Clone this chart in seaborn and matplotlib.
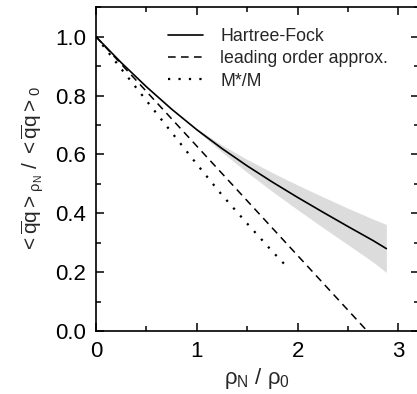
import numpy as np
import seaborn as sns
import matplotlib.pyplot as plt
from matplotlib.ticker import MultipleLocator, FormatStrFormatter

# Data
hf_x = [0.0, 0.25, 0.5, 0.75, 1.0, 1.25, 1.5, 1.75, 2.0, 2.25, 2.5, 2.75, 2.88]
hf_y = [1.0, 0.912, 0.83, 0.754, 0.684, 0.62, 0.561, 0.506, 0.454, 0.404, 0.355, 0.307, 0.28]

band_x = [0.9, 1.25, 1.5, 1.75, 2.0, 2.25, 2.5, 2.75, 2.88]
band_lo = [0.71, 0.608, 0.539, 0.474, 0.412, 0.352, 0.293, 0.234, 0.199]
band_hi = [0.71, 0.632, 0.583, 0.538, 0.496, 0.456, 0.417, 0.38, 0.362]

lo_x = [0.0, 2.69]
lo_y = [1.0, 0.0]

mm_x = [0.0, 0.25, 0.5, 0.75, 1.0, 1.25, 1.5, 1.75, 1.9]
mm_y = [1.0, 0.891, 0.783, 0.675, 0.567, 0.462, 0.365, 0.27, 0.216]

sns.set_style("ticks")
plt.rcParams["font.family"] = ["Liberation Sans", "DejaVu Sans"]
plt.rcParams["mathtext.fontset"] = "custom"
plt.rcParams["mathtext.rm"] = "Liberation Sans"
plt.rcParams["mathtext.it"] = "Liberation Sans"
plt.rcParams["mathtext.bf"] = "Liberation Sans:bold"

fig = plt.figure(figsize=(4.17, 3.94), dpi=100)
ax = fig.add_axes([96 / 417, 63 / 394, 322.6 / 417, 323.7 / 394])

ax.fill_between(band_x, band_lo, band_hi, color="#dcdcdc", lw=0)
sns.lineplot(x=hf_x, y=hf_y, ax=ax, color="black", lw=1.2, sort=False,
             estimator=None, label="Hartree-Fock")
sns.lineplot(x=lo_x, y=lo_y, ax=ax, color="black", lw=1.1, sort=False,
             estimator=None, label="leading order approx.", dashes=False)
ax.lines[-1].set_dashes((5, 3.5))
sns.lineplot(x=mm_x, y=mm_y, ax=ax, color="black", lw=1.6, sort=False,
             estimator=None, label="M*/M")
ax.lines[-1].set_dashes((1, 3.7))

ax.set_xlim(0, 3.2)
ax.set_ylim(0, 1.1)
ax.xaxis.set_major_locator(MultipleLocator(1))
ax.xaxis.set_minor_locator(MultipleLocator(0.5))
ax.yaxis.set_major_locator(MultipleLocator(0.2))
ax.yaxis.set_minor_locator(MultipleLocator(0.1))
ax.yaxis.set_major_formatter(FormatStrFormatter("%.1f"))
ax.tick_params(which="both", direction="in", top=True, right=True,
               labelsize=16, width=1.1, colors="black")
ax.tick_params(which="major", length=5.8, pad=7)
ax.tick_params(which="minor", length=3.4)
for s in ax.spines.values():
    s.set_linewidth(1.2)
    s.set_color("black")

ax.set_xlabel(r"$\rho_N$ / $\rho_0$", fontsize=16, labelpad=3)
ax.set_ylabel(r"${<}\overline{q}q{>}_{\rho_N}$ / ${<}\overline{q}q{>}_0$",
              fontsize=15, labelpad=7)

ax.legend(loc="upper left", bbox_to_anchor=(0.223, 0.936), frameon=False,
          fontsize=12.8, handlelength=2.0, handletextpad=0.95,
          labelspacing=0.3, borderpad=0, borderaxespad=0)

fig.savefig("out.png", dpi=100)
